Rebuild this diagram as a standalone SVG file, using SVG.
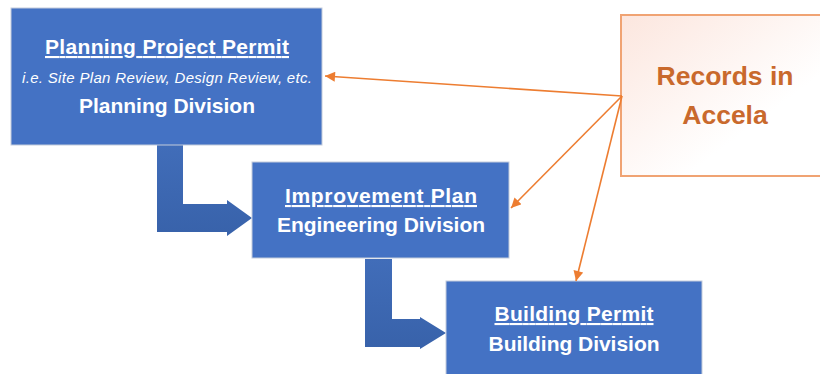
<svg xmlns="http://www.w3.org/2000/svg" width="820" height="374" viewBox="0 0 820 374">
<style>
.box{fill:#4472C4;stroke:#C3CCDB;stroke-width:1}
.t{font-family:"Liberation Sans",Arial,sans-serif;fill:#FFFFFF;text-anchor:middle}
.b{font-weight:bold;font-size:21px}
.u{text-decoration:underline}
.i{font-style:italic;font-size:15px}
.elbow{fill:url(#blueg)}
.con{stroke:#ED7D31;stroke-width:1.6;fill:none;marker-end:url(#ah)}
.rec{font-family:"Liberation Sans",Arial,sans-serif;font-weight:bold;font-size:26.5px;fill:#C9692C;text-anchor:middle}
</style>
<defs>
<linearGradient id="blueg" x1="0" y1="0" x2="0" y2="1">
<stop offset="0" stop-color="#416DB9"/>
<stop offset="1" stop-color="#3862AA"/>
</linearGradient>
<linearGradient id="pinkg" x1="0" y1="0" x2="1" y2="1">
<stop offset="0" stop-color="#FCE6DE"/>
<stop offset="0.65" stop-color="#FFFFFF"/>
</linearGradient>
<marker id="ah" viewBox="0 0 10 10" refX="10" refY="5" markerWidth="11" markerHeight="10" markerUnits="userSpaceOnUse" orient="auto">
<path d="M0,0 L10,5 L0,10 Z" fill="#ED7D31"/>
</marker>
</defs>
<g id="elbows">
<path class="elbow" d="M157,145 L183,145 L183,204 L227,204 L227,200 L252,218 L227,236 L227,232 L157,232 Z"/>
<path class="elbow" d="M365,259 L392,259 L392,319 L420,319 L420,317 L446,333 L420,349 L420,347 L365,347 Z"/>
</g>
<g id="planning">
<rect class="box" x="11" y="8" width="311" height="137"/>
<text class="t b u" x="167" y="54" textLength="244" lengthAdjust="spacing">Planning Project Permit</text>
<text class="t i" x="167" y="83" textLength="290" lengthAdjust="spacing">i.e. Site Plan Review, Design Review, etc.</text>
<text class="t b" x="167" y="113" textLength="176" lengthAdjust="spacing">Planning Division</text>
</g>
<g id="improvement">
<rect class="box" x="252" y="162" width="257" height="96"/>
<text class="t b u" x="381" y="203" textLength="192" lengthAdjust="spacing">Improvement Plan</text>
<text class="t b" x="381" y="232" textLength="208" lengthAdjust="spacing">Engineering Division</text>
</g>
<g id="building">
<rect class="box" x="446" y="281" width="256" height="98"/>
<text class="t b u" x="574" y="321" textLength="159" lengthAdjust="spacing">Building Permit</text>
<text class="t b" x="574" y="351" textLength="171" lengthAdjust="spacing">Building Division</text>
</g>
<g id="records">
<rect x="621" y="15" width="215" height="161" fill="url(#pinkg)" stroke="#F0A373" stroke-width="2"/>
<text class="rec" x="725" y="85">Records in</text>
<text class="rec" x="725" y="124">Accela</text>
</g>
<g id="connectors">
<line class="con" x1="622" y1="96" x2="325" y2="76"/>
<line class="con" x1="622" y1="96" x2="511" y2="208"/>
<line class="con" x1="622" y1="96" x2="576" y2="281"/>
</g>
</svg>
